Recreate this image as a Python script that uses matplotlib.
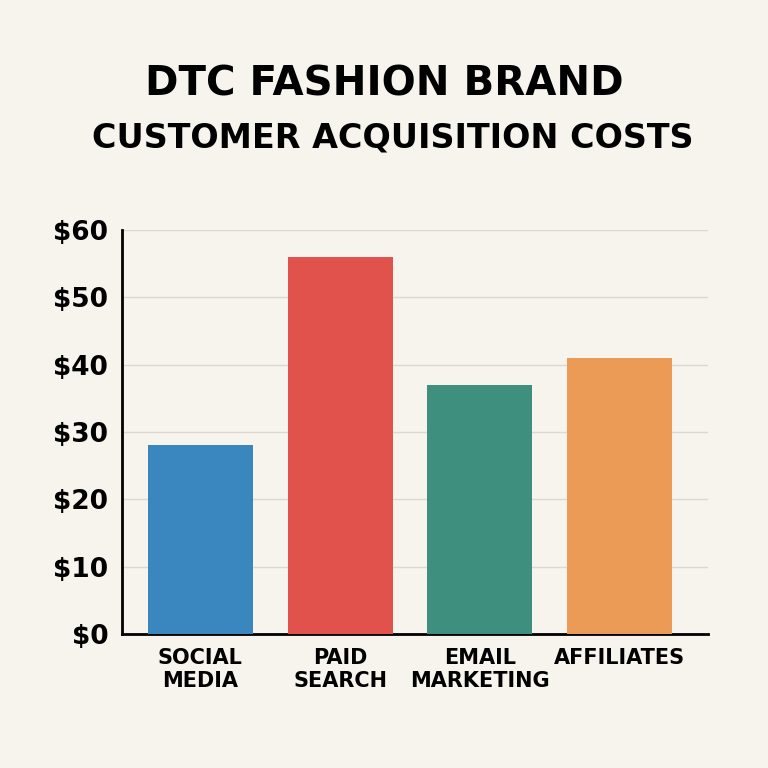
import matplotlib
matplotlib.use("Agg")
import matplotlib.pyplot as plt

categories = ["SOCIAL\nMEDIA", "PAID\nSEARCH", "EMAIL\nMARKETING", "AFFILIATES"]
values = [28, 56, 37, 41]
colors = ["#3a87c0", "#e0524b", "#3f8f7e", "#eb9b55"]
yticks = [0, 10, 20, 30, 40, 50, 60]
ylabels = ["$0", "$10", "$20", "$30", "$40", "$50", "$60"]

bg = "#f7f4ee"
fig = plt.figure(figsize=(7.68, 7.68), dpi=100, facecolor=bg)
ax = fig.add_axes([0.159, 0.1745, 0.763, 0.526], facecolor=bg)
x = range(len(values))
ax.bar(x, values, width=0.75, color=colors, zorder=3)
ax.set_xlim(-0.557, 3.63)
ax.set_ylim(0, 60)
ax.set_yticks(yticks)
ax.set_yticklabels(ylabels, fontsize=19, fontweight="bold", family="DejaVu Sans")
ax.set_xticks(list(x))
ax.set_xticklabels(categories, fontsize=15, fontweight="bold", linespacing=1.2)
ax.tick_params(axis="both", length=0, pad=10)
ax.grid(axis="y", color="#dcd8d0", linewidth=1, zorder=0)
for s in ["top", "right"]:
    ax.spines[s].set_visible(False)
ax.spines["left"].set_linewidth(2)
ax.spines["bottom"].set_linewidth(2)

fig.text(0.5, 0.89, "DTC FASHION BRAND", ha="center", va="center", fontsize=29, fontweight="bold")
fig.text(0.512, 0.82, "CUSTOMER ACQUISITION COSTS", ha="center", va="center", fontsize=24, fontweight="bold")
fig.savefig("out.png", dpi=100, facecolor=bg)
